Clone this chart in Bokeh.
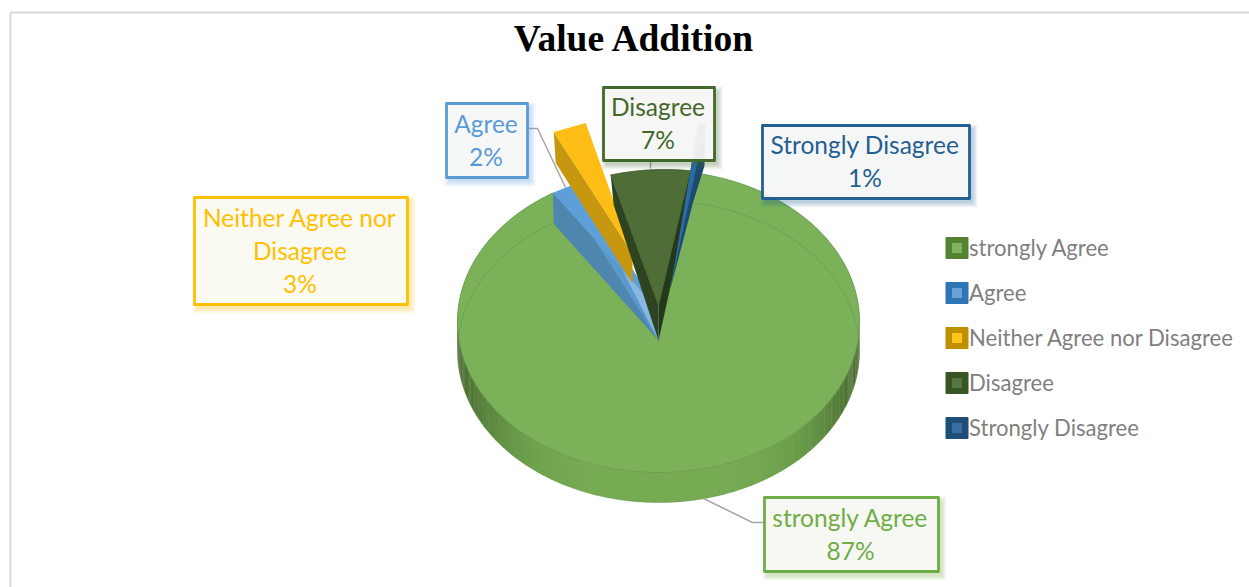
import math
from bokeh.plotting import figure
from bokeh.models import Range1d
from bokeh.core.properties import value
from bokeh.embed import file_html
from bokeh.resources import INLINE

title_text = "Value Addition"
categories = ["strongly Agree", "Agree", "Neither Agree nor Disagree", "Disagree", "Strongly Disagree"]
percent_values = [87, 2, 3, 7, 1]
label_first_lines = [["strongly Agree"], ["Agree"], ["Neither Agree nor", "Disagree"], ["Disagree"], ["Strongly Disagree"]]
legend_outer = ["#548235", "#2E75B6", "#BF9000", "#375623", "#1F4E79"]
legend_inner = ["#7DB35B", "#6BA3D6", "#FFC61A", "#54783F", "#3A6E9F"]
label_colors = ["#70AD47", "#5B9BD5", "#FFC000", "#43682B", "#255E91"]
label_boxes = [(764, 938, 497, 571), (446, 527, 103, 177), (194, 407, 197, 304), (603, 714, 87, 160), (762, 969, 125, 198)]

W, H = 1249, 587
p = figure(width=W, height=H, output_backend="svg", toolbar_location=None,
           x_range=Range1d(0, W), y_range=Range1d(H, 0),
           min_border=0, outline_line_color=None, background_fill_color="white")
p.xaxis.visible = False
p.yaxis.visible = False
p.xgrid.visible = False
p.ygrid.visible = False

FONT = value("Lato")

# perspective projection of the pie's unit circle on screen
CX, AY = 658.0, 340.0
R, PC, PA = 199.4, -0.1258, -191.4
DEPTH = 30.0


def proj(theta_deg, r=1.0):
    t = math.radians(theta_deg)
    u, v = r * math.sin(t), r * math.cos(t)
    d = 1 + PC * v
    return CX + R * u / d, (PA * v + AY) / d


def arc(a0, a1, n=40, dx=0.0, dy=0.0):
    pts = [proj(a0 + (a1 - a0) * i / n) for i in range(n + 1)]
    return [(x + dx, y + dy) for x, y in pts]


def poly(pts, color, alpha=1.0, line=None, lw=0.8):
    p.patch([a for a, _ in pts], [b for _, b in pts], fill_color=color, fill_alpha=alpha,
            line_color=line, line_width=lw)


# slice angles: clockwise from the top; the notch left by the small slices is drawn narrower
NOTCH_SCALE = 0.8
green_end = -28.1
small = percent_values[1:]
spans = [v * 3.6 * NOTCH_SCALE for v in small]
edges = [green_end]
for s in spans:
    edges.append(edges[-1] + s)
green_start = edges[-1]

# chart frame
p.line([10, 10], [587, 12], line_color="#D9D9D9", line_width=2)
p.line([10, 1249], [12, 12], line_color="#D9D9D9", line_width=2)

# side wall with shading
wall_xs, wall_ys, wall_c = [], [], []
for i in range(0, 200):
    a0 = 82 + i * 1.0
    a1 = a0 + 1.3
    x0, y0 = proj(a0)
    x1, y1 = proj(a1)
    wall_xs.append([x0, x1, x1, x0])
    wall_ys.append([y0, y1, y1 + DEPTH, y0 + DEPTH])
    s = abs((x0 + x1) / 2 - CX) / 201.0
    k = s ** 4
    r_ = int(118 + (68 - 118) * k)
    g_ = int(172 + (100 - 172) * k)
    b_ = int(84 + (44 - 84) * k)
    wall_c.append(f"#{r_:02x}{g_:02x}{b_:02x}")
p.patches(wall_xs, wall_ys, fill_color=wall_c, line_color=None)

# green slice
green_pts = [(CX, AY)] + arc(green_start, green_end + 360, 160)
poly(green_pts, "#7AB159", line="#669A48", lw=0.9)

# see-through base ellipse
base = arc(-90, 270, 180, dy=DEPTH)
p.line([a for a, _ in base], [b for _, b in base], line_color="#5F8F42", line_alpha=0.4, line_width=1)

# Agree slice
b0, b1 = proj(edges[0]), proj(edges[1])
poly([(CX, AY), (b1[0] + 5, b1[1] - 2), (b0[0], b0[1]), (b0[0] + 1, b0[1] + 31)], "#4F86AD", 1.0)
poly([(CX, AY - 30), (b1[0] + 5, b1[1] - 2), (b0[0], b0[1])], "#5F9FD8", 1.0)
poly([(CX, AY - 30), (b1[0] + 5, b1[1] - 2), (b1[0] + 5, b1[1] + 28), (CX, AY)], "#5F9FD8", 0.75)

# Neither slice (exploded)
y0, y1 = proj(edges[1]), proj(edges[2])
OX, OY = -19, -53
yo0 = (y0[0] + OX, y0[1] + OY)
yo1 = (y1[0] + OX, y1[1] + OY)
ytip, ylow = (632, 253), (632, 283)
poly([yo0, (yo0[0] + 2, yo0[1] + 31), ylow, ytip], "#C7980F")
poly([yo0, yo1, ytip], "#FDBD14")

# Disagree slice
DX = 6
d0, d1 = proj(edges[2]), proj(edges[3])
d0 = (d0[0] + DX, d0[1] - 1)
d1 = (d1[0] + DX, d1[1] - 1)
dtip, dlow = (CX, 305), (CX, AY)
s0, s1 = proj(edges[3]), proj(edges[4])
poly([dlow, (s1[0], s1[1]), d1, dtip], "#24381A")
poly([d0, (d0[0] + 3, d0[1] + 30), dlow, dtip], "#2E4420")
poly(arc(edges[2], edges[3], 20, dx=DX, dy=-1) + [dtip], "#4E6D37", line="#3F5A2C")

# Strongly Disagree slice (exploded)
top_l = (s0[0] + 14, s0[1] - 47)
top_r = (s1[0] + 10, s1[1] - 48)
poly([top_l, top_r, (top_r[0] - 1, top_r[1] + 41), (top_r[0] - 12, top_r[1] + 76), (670, 288)], "#1C4A70")
poly([top_l, top_r, (670, 288)], "#2E6FA5", 0.9)

# leader lines
p.line([527, 537, 565], [128, 128, 187], line_color="#A6A6A6", line_width=1.5)
p.line([650, 650], [160, 168], line_color="#A6A6A6", line_width=1.5)
p.line([703, 752, 764], [498, 522, 522], line_color="#A6A6A6", line_width=1.5)

# data labels
LINE = 33.0
for cat, pct, lines, col, box in zip(categories, percent_values, label_first_lines, label_colors, label_boxes):
    l, r, t, b = box
    for i in range(6):
        grow = 5 - i
        p.quad(left=l + 3 - grow, right=r + 3 + grow, top=t + 4 - grow, bottom=b + 4 + grow,
               fill_color=col, fill_alpha=0.06, line_color=None)
    p.quad(left=l, right=r, top=t, bottom=b, fill_color="#FAFAF8", fill_alpha=0.93,
           line_color=col, line_width=2.8, line_join="round")
    txt = list(lines) + [f"{pct}%"]
    cy = (t + b) / 2
    for j, s in enumerate(txt):
        yy = cy - 1 + (j - (len(txt) - 1) / 2) * LINE
        p.text([(l + r) / 2 - 1], [yy], text=[s], text_color=col, text_font=FONT, text_font_size="24.5px",
               text_align="center", text_baseline="middle")

# legend
for k, (cat, o, n) in enumerate(zip(categories, legend_outer, legend_inner)):
    yy = 247 + 45 * k
    p.quad(left=[946], right=[967], top=[yy - 9.5], bottom=[yy + 10.5], fill_color=o, line_color=o,
           line_width=2, line_join="round")
    p.quad(left=[951.5], right=[961.5], top=[yy - 4.5], bottom=[yy + 5.5], fill_color=n, line_color=None)
    p.text([968.5], [yy], text=[cat], text_color="#7F7F7F", text_font=FONT, text_font_size="22.1px",
           text_align="left", text_baseline="middle")

# title
p.text([634], [38], text=[title_text], text_color="black", text_font=value("Liberation Serif"),
       text_font_size="37.5px", text_font_style="bold", text_align="center", text_baseline="middle")

open("out.html", "w").write(file_html(p, INLINE))
